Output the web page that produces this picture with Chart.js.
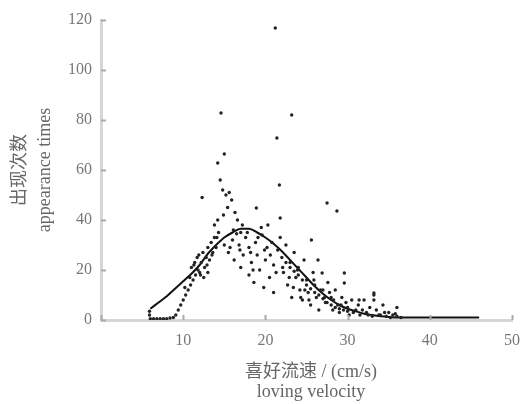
<!DOCTYPE html>
<html>
<head>
<meta charset="utf-8">
<script src="https://cdn.jsdelivr.net/npm/chart.js@4.4.1/dist/chart.umd.min.js"></script>
<style>
  html, body { margin: 0; padding: 0; background: #fff; }
  #wrap { width: 531px; height: 404px; }
</style>
</head>
<body>
<div id="wrap"><canvas id="chart" width="531" height="404"></canvas></div>
<script>
// fitted curve
const curveX = [6, 7, 8, 9, 10, 11, 12, 13, 14, 15, 16, 17, 18, 19, 20, 21, 22, 23, 24, 25, 26, 27, 28, 29, 30, 31, 32, 33, 34, 35, 36, 38, 40, 42, 44, 46];
const curveY = [4.5, 7, 9.5, 12.5, 15.5, 18.5, 22, 26.5, 30, 33, 35, 36.5, 36.5, 35, 33, 30.5, 27.5, 24, 20.5, 17, 13.5, 10.5, 8, 6, 4.5, 3.5, 2.5, 2, 1.5, 1.2, 1, 1, 1, 1, 1, 1];

// observed points: loving velocity (cm/s)
const pointX = [
  6, 6.4, 6.8, 7.2, 7.6, 8, 8.4, 8.8, 5.9, 5.9,
  9.1, 9.4, 9.7, 10, 10.3, 10.6, 10.9, 11.2, 11.5, 11.8,
  11, 11.4, 11.7, 12, 12.2, 12.4, 12.6, 12.8, 13, 13.2, 13.4, 13.6, 13.8, 14, 14.3, 12.5, 13,
  12.3, 14.2, 14.6, 15, 14.5, 14.8, 15.2, 15.6, 15.9, 15.4, 14.9, 14.2, 13.8, 16.3, 16.6, 17.2, 18.9,
  15, 15.5, 16, 16.2, 16.8, 17, 17.3, 17.6, 18, 18, 18.3, 18.6, 18.8, 19, 19.3, 19.6, 19.8, 20, 20.2, 20.5, 20.8, 21, 21, 19.5, 20.3, 17, 16.5,
  21.2, 21.4, 23.2, 21.7, 21.8, 27.5, 28.7, 25.6, 29.6,
  21.5, 21.8, 22, 22.2, 22.5, 22.7, 23, 23.2, 23.5, 23.7, 24, 24.2, 24.5, 24.7, 25, 25.2, 25.5, 25.8, 26, 26.2, 26.4, 26.5, 26.9, 27, 27.3, 27.6, 28, 28.2, 28.5, 28.8, 29, 29.3, 29.6, 30, 30.2, 30.5, 31, 31.3, 31.5, 32, 32.3, 32.7, 33, 33.2, 33.5, 34, 34.3, 34.7, 35, 35.5, 36, 36, 36.5,
  22.5, 23, 23.5, 24, 24.5, 25, 25.5, 26, 26.5, 27, 27.5, 28, 28.5, 29, 29.5, 30, 31.4, 33.2, 33.2,
  10.2, 10.8, 11.3, 11.9, 12.1, 12.9, 13.5, 14.1, 15.7, 16.1, 16.9, 17.8, 18.2, 18.5, 19.1, 19.9, 20.6, 21.3,
  22.1, 22.9, 23.4, 23.9, 24.3, 24.8, 25.3, 25.9, 26.7, 27.2, 27.8, 28.3, 29.2, 29.8, 30.7, 31.8, 32.5, 33.8, 34.5, 35.2, 35.8
];
// observed points: appearance times
const pointY = [
  0.5, 0.5, 0.5, 0.5, 0.5, 0.5, 0.8, 1, 2, 3.5,
  2, 4, 6, 8, 10, 12, 14, 16, 18, 20,
  21, 23, 25, 19, 23, 27, 21, 25, 29, 24, 31, 27, 33, 29, 35, 17, 19,
  49, 62.8, 82.8, 66.4, 56, 52, 50, 51, 48, 45, 42, 40, 38, 43, 40, 38, 44.8,
  30, 27, 32, 24, 30, 21, 26, 33, 18, 29, 23, 15, 31, 26, 20, 34, 13, 24, 29, 17, 31, 22, 11, 37, 38, 35, 34.5,
  116.8, 72.8, 82, 54, 40.8, 46.8, 43.6, 32, 18.8,
  28, 33, 25, 19, 30, 14, 23, 9, 27, 17, 21, 12, 8, 24, 16, 11, 6, 19, 14, 9, 24, 4, 18.8, 12, 7, 15, 9, 4, 12, 6, 3, 9, 14.8, 5, 2, 8, 4, 6, 2, 8, 3, 5, 1.5, 10, 4, 2, 6, 1.5, 3, 2, 5, 1.5, 1,
  23, 21, 19.5, 18, 16, 14, 12.5, 11, 10, 8.5, 7, 6, 5, 4.5, 4, 3.5, 8, 10.8, 8,
  13, 17, 22, 26, 18, 22, 26, 33, 29, 36, 28, 35, 27, 20, 33, 28, 26, 19,
  21, 17, 13, 20, 9, 12, 8, 16, 12, 9, 11, 8, 6, 7, 3, 4, 2, 2, 3, 1, 2.5
];

const yTicks = [0, 20, 40, 60, 80, 100, 120];
const xTicks = [0, 10, 20, 30, 40, 50];

const tickFont = { family: "'Liberation Serif', 'DejaVu Serif', serif", size: 16 };
const titleFont = { family: "'Liberation Serif', 'Noto Sans CJK SC', serif", size: 18 };

// short tick marks drawn inside the plot, like the original figure
const innerTicks = {
  id: 'innerTicks',
  afterDraw(chart) {
    const { ctx, scales: { x, y } } = chart;
    ctx.save();
    ctx.strokeStyle = '#aaa';
    ctx.lineWidth = 2;
    yTicks.forEach(v => {
      const py = Math.round(y.getPixelForValue(v)) + 0.5;
      ctx.beginPath();
      ctx.moveTo(x.left, py);
      ctx.lineTo(x.left + 5, py);
      ctx.stroke();
    });
    xTicks.forEach(v => {
      const px = Math.round(x.getPixelForValue(v)) + 0.5;
      ctx.beginPath();
      ctx.moveTo(px, y.bottom);
      ctx.lineTo(px, y.bottom - 5);
      ctx.stroke();
    });
    ctx.restore();
  }
};

const ctx = document.getElementById('chart').getContext('2d');
new Chart(ctx, {
  type: 'scatter',
  data: {
    datasets: [
      {
        label: 'observed',
        data: pointX.map((v, i) => ({ x: v, y: pointY[i] })),
        pointRadius: 1.7,
        pointBackgroundColor: '#222',
        pointBorderWidth: 0
      },
      {
        label: 'fit',
        type: 'line',
        data: curveX.map((v, i) => ({ x: v, y: curveY[i] })),
        borderColor: '#111',
        borderWidth: 2,
        pointRadius: 0,
        fill: false,
        cubicInterpolationMode: 'monotone'
      }
    ]
  },
  options: {
    responsive: false,
    animation: false,
    layout: { padding: { top: 20, right: 11, left: 0, bottom: 0 } },
    plugins: { legend: { display: false }, tooltip: { enabled: false } },
    scales: {
      x: {
        type: 'linear',
        min: 0,
        max: 50,
        afterBuildTicks: s => { s.ticks = xTicks.map(v => ({ value: v })); },
        afterFit: s => { s.height = 84; },
        grid: { display: false, drawTicks: false },
        border: { display: true, color: '#d6d6d6', width: 3 },
        ticks: {
          padding: 11,
          color: '#777',
          font: tickFont,
          callback: v => (v === 0 ? '' : v)
        },
        title: {
          display: true,
          text: ['  喜好流速 / (cm/s)', '  loving velocity'],
          color: '#666',
          font: { ...titleFont, lineHeight: '20px' },
          padding: { top: 0, bottom: 2 }
        }
      },
      y: {
        min: 0,
        max: 120,
        afterBuildTicks: s => { s.ticks = yTicks.map(v => ({ value: v })); },
        afterFit: s => { s.width = 101; },
        grid: { display: false, drawTicks: false },
        border: { display: true, color: '#d6d6d6', width: 3 },
        ticks: { padding: 9, color: '#777', font: tickFont },
        title: {
          display: true,
          text: ['出现次数', 'appearance times'],
          color: '#666',
          font: { ...titleFont, lineHeight: '25px' },
          padding: { top: 8, bottom: 0 }
        }
      }
    }
  },
  plugins: [innerTicks]
});
</script>
</body>
</html>
